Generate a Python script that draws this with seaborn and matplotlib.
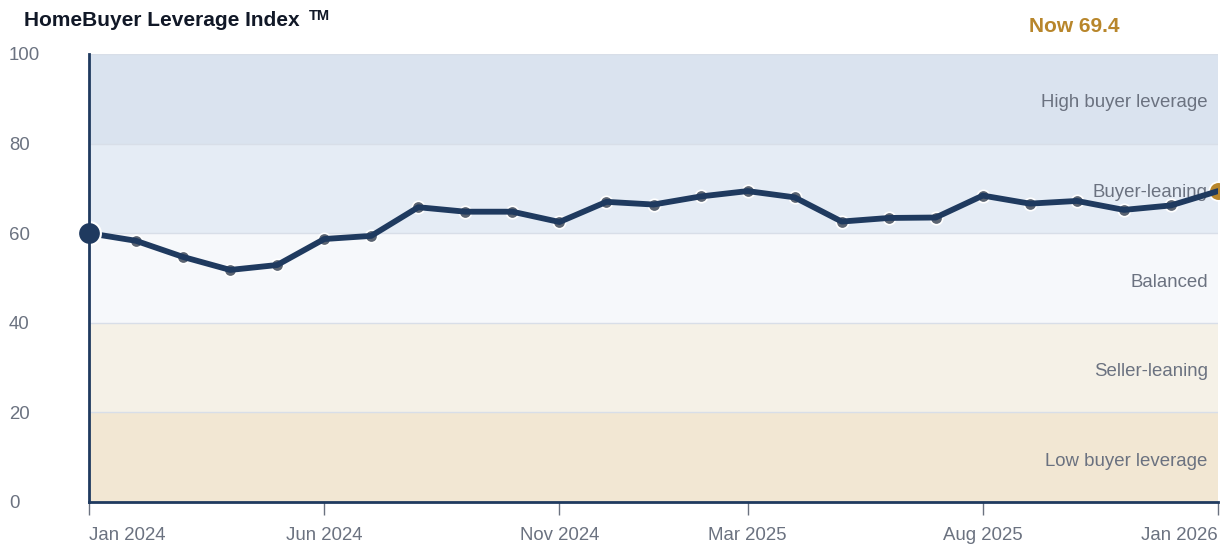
import numpy as np
import pandas as pd
import matplotlib
matplotlib.use("Agg")
import matplotlib.pyplot as plt
import seaborn as sns

# monthly index values, Jan 2024 .. Jan 2026
months = pd.date_range("2024-01-01", "2026-01-01", freq="MS")
index_values = [60.0, 58.3, 54.7, 51.8, 52.9, 58.7, 59.4, 65.8, 64.8, 64.8,
                62.5, 67.0, 66.4, 68.2, 69.4, 68.0, 62.6, 63.4, 63.5, 68.4,
                66.6, 67.2, 65.2, 66.2, 69.4]
band_edges = [0, 20, 40, 60, 80, 100]
band_labels = ["Low buyer leverage", "Seller-leaning", "Balanced",
               "Buyer-leaning", "High buyer leverage"]
band_colors = ["#f2e7d3", "#f5f1e7", "#f6f8fb", "#e5ecf5", "#dae3ef"]
tick_dates = pd.to_datetime(["2024-01-01", "2024-06-01", "2024-11-01",
                             "2025-03-01", "2025-08-01", "2026-01-01"])
tick_labels = ["Jan 2024", "Jun 2024", "Nov 2024", "Mar 2025", "Aug 2025", "Jan 2026"]


def month_pos(d):
    # evenly spaced months, like a category axis
    d = pd.DatetimeIndex(d)
    return np.asarray((d.year - 2024) * 12 + d.month - 1)


df = pd.DataFrame({"month": months, "index": index_values})
df["pos"] = month_pos(df["month"])

navy = "#1f3a5f"
gold = "#b8862b"
grey_txt = "#6b7280"

sns.set_style("white")
plt.rcParams["font.family"] = ["Liberation Sans", "DejaVu Sans"]

fig = plt.figure(figsize=(12.2, 5.46), dpi=100)
ax = fig.add_axes([89 / 1220, 44 / 546, (1218 - 89) / 1220, 448 / 546])

for lo, hi, lab, col in zip(band_edges[:-1], band_edges[1:], band_labels, band_colors):
    ax.axhspan(lo, hi, color=col, lw=0, zorder=0)
    ax.axhline(hi, color="#d8dee8", lw=1, zorder=0.5)
    ax.text(0.991, (lo + hi) / 2 - 0.9, lab, transform=ax.get_yaxis_transform(),
            ha="right", va="center", fontsize=13.4, color=grey_txt, zorder=1)

sns.scatterplot(data=df.iloc[1:-1], x="pos", y="index", ax=ax, s=80,
                color="#5b6472", edgecolor="white", linewidth=1.2, zorder=2)
sns.lineplot(data=df, x="pos", y="index", ax=ax, color=navy, lw=4.2, zorder=3)
ax.scatter(df["pos"].iloc[:1], df["index"].iloc[:1], s=270, color=navy,
           edgecolor="white", linewidth=1.5, zorder=4, clip_on=False)
ax.scatter(df["pos"].iloc[-1:], df["index"].iloc[-1:], s=180, color=gold,
           edgecolor="white", linewidth=1.2, zorder=2.5, clip_on=False)

ax.set_xlim(df["pos"].iloc[0], df["pos"].iloc[-1])
ax.set_ylim(0, 100)
ax.set_xlabel("")
ax.set_ylabel("")

ax.set_xticks(month_pos(tick_dates))
ax.set_xticklabels(tick_labels)
ax.tick_params(axis="x", length=9, width=1, color="#6b7280", labelsize=13.4,
               labelcolor=grey_txt, pad=9, bottom=True)
xl = ax.get_xticklabels()
xl[0].set_ha("left")
xl[-1].set_ha("right")

ax.set_yticks([0, 20, 40, 60, 80, 100])
ax.tick_params(axis="y", length=0, labelsize=13.4, labelcolor=grey_txt, pad=0)
for t in ax.get_yticklabels():
    t.set_ha("left")
    t.set_x(-80 / 1129)

for side in ["top", "right"]:
    ax.spines[side].set_visible(False)
for side in ["left", "bottom"]:
    ax.spines[side].set_color(navy)
    ax.spines[side].set_linewidth(2)
    ax.spines[side].set_zorder(5)

fig.text(24 / 1220, 1 - 20 / 546, "HomeBuyer Leverage Index", fontsize=15,
         fontweight="bold", color="#111827", ha="left", va="center")
fig.text(309 / 1220, 1 - 16 / 546, "TM", fontsize=10.5, fontweight="bold",
         color="#111827", ha="left", va="center")
fig.text(1074 / 1220, 1 - 27 / 546, "Now 69.4", fontsize=15,
         fontweight="bold", color=gold, ha="center", va="center")

fig.savefig("out.png", dpi=100)
